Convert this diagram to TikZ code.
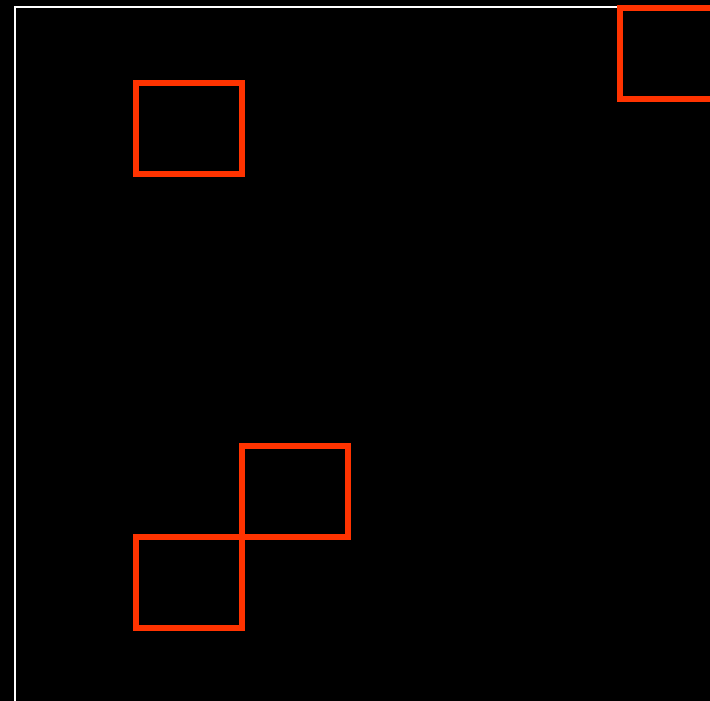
\documentclass[tikz,border=0pt]{standalone}
\usepackage{tikz}
\usetikzlibrary{positioning}
\definecolor{cellred}{RGB}{255, 51, 0}

\begin{document}
\begin{tikzpicture}[x=1pt, y=-1pt,
    cell/.style={rectangle, draw=cellred, line width=6pt, inner sep=0pt,
                 minimum width=106pt, minimum height=91pt},
    frame/.style={white, line width=2pt}
  ]
    \fill[black] (0,0) rectangle (710,701);
    \useasboundingbox (0,0) rectangle (710,701);
    \coordinate (fbl) at (15,701);
    \coordinate (ftl) at (15,7);
    \coordinate (ftr) at (710,7);
    \draw[frame] (fbl) -- (ftl) -- (ftr);
    \node[cell] (c1) at (189, 128.5) {};
    \node[cell] (c2) at (295, 491.5) {};
    \node[cell] (c3) at (189, 582) {};
    \node[cell] (c4) at (673, 53.5) {};
  \end{tikzpicture}
\end{document}
